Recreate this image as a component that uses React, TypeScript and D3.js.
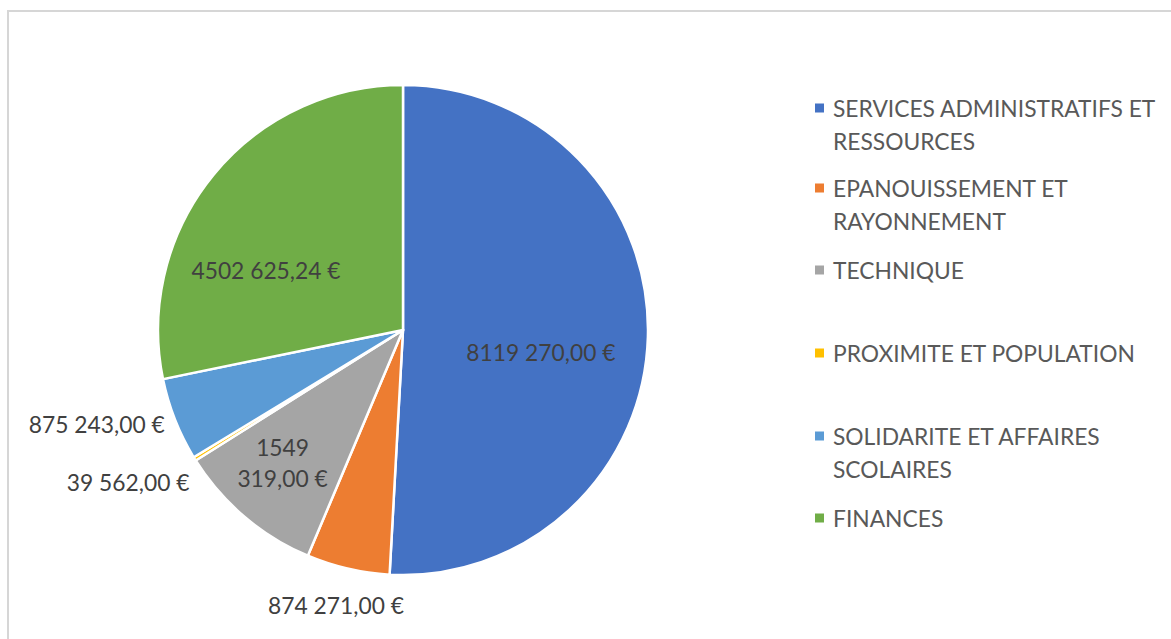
import React, { useEffect, useRef } from 'react'
import * as d3 from 'd3'

// budget par pôle
const categories = [
  'SERVICES ADMINISTRATIFS ET RESSOURCES',
  'EPANOUISSEMENT ET RAYONNEMENT',
  'TECHNIQUE',
  'PROXIMITE ET POPULATION',
  'SOLIDARITE ET AFFAIRES SCOLAIRES',
  'FINANCES',
]
const values = [8119270.0, 874271.0, 1549319.0, 39562.0, 875243.0, 4502625.24]
const colors = ['#4472C4', '#ED7D31', '#A5A5A5', '#FFC000', '#5B9BD5', '#70AD47']
// legend lines (wrapped as in the original)
const legendLines = [
  ['SERVICES ADMINISTRATIFS ET', 'RESSOURCES'],
  ['EPANOUISSEMENT ET', 'RAYONNEMENT'],
  ['TECHNIQUE'],
  ['PROXIMITE ET POPULATION'],
  ['SOLIDARITE ET AFFAIRES', 'SCOLAIRES'],
  ['FINANCES'],
]
// label lines
const labelLines = [
  ['8119 270,00 €'],
  ['874 271,00 €'],
  ['1549', '319,00 €'],
  ['39 562,00 €'],
  ['875 243,00 €'],
  ['4502 625,24 €'],
]
// label placement: radius factor, angle nudge (deg), anchor
const labelPos = [
  { r: 0.57, da: 7.5, anchor: 'middle' },
  { r: 1.155, da: 0.7, anchor: 'middle' },
  { r: 0.73, da: 2, anchor: 'middle' },
  { r: 1.07, da: -3.7, anchor: 'end' },
  { r: 1.045, da: 0, anchor: 'end' },
  { r: 0.61, da: -15.7, anchor: 'middle' },
]

const W = 1171
const H = 639
const FONT = 'Lato, "Open Sans", sans-serif'
const FS = 22.8

export default function App() {
  const ref = useRef<SVGSVGElement>(null)

  useEffect(() => {
    const svg = d3.select(ref.current)
    svg.selectAll('*').remove()

    // frame
    svg.append('rect')
      .attr('x', 8).attr('y', 11)
      .attr('width', W + 20).attr('height', H + 20)
      .attr('fill', '#fff')
      .attr('stroke', '#d6d6d6').attr('stroke-width', 2)

    const cx = 403, cy = 330, radius = 245
    const g = svg.append('g').attr('transform', `translate(${cx},${cy})`)

    const pie = d3.pie<number>().sort(null).value(d => d)
    const arcs = pie(values)
    const arc = d3.arc<d3.PieArcDatum<number>>().innerRadius(0).outerRadius(radius)

    g.selectAll('path.slice')
      .data(arcs)
      .enter().append('path')
      .attr('class', 'slice')
      .attr('d', arc)
      .attr('fill', (d, i) => colors[i])
      .attr('stroke', '#fff')
      .attr('stroke-width', 2.5)
      .attr('stroke-linejoin', 'round')

    // data labels
    arcs.forEach((a, i) => {
      const p = labelPos[i]
      const ang = (a.startAngle + a.endAngle) / 2 + (p.da * Math.PI) / 180
      const r = radius * p.r
      const x = r * Math.sin(ang)
      const y = -r * Math.cos(ang)
      const lines = labelLines[i]
      const lh = 31
      const t = g.append('text')
        .attr('x', x).attr('y', y)
        .attr('text-anchor', p.anchor)
        .attr('font-family', FONT)
        .attr('font-size', FS)
        .attr('fill', '#404040')
      lines.forEach((l, j) => {
        t.append('tspan')
          .attr('x', x)
          .attr('y', y + (j - (lines.length - 1) / 2) * lh)
          .attr('dominant-baseline', 'central')
          .text(l)
      })
    })

    // legend
    const itemY = [108, 188, 270, 353, 436, 518]
    const lg = svg.append('g')
    categories.forEach((c, i) => {
      const y = itemY[i]
      lg.append('rect')
        .attr('x', 815).attr('y', y - 4.5)
        .attr('width', 9).attr('height', 9)
        .attr('fill', colors[i])
      legendLines[i].forEach((l, j) => {
        lg.append('text')
          .attr('x', 833)
          .attr('y', y + j * 32.5)
          .attr('dominant-baseline', 'central')
          .attr('font-family', FONT)
          .attr('font-size', FS)
          .attr('fill', '#595959')
          .text(l)
      })
    })
  }, [])

  return (
    <svg ref={ref} width={W} height={H}
      style={{ position: 'absolute', left: 0, top: 0, background: '#fff' }} />
  )
}
